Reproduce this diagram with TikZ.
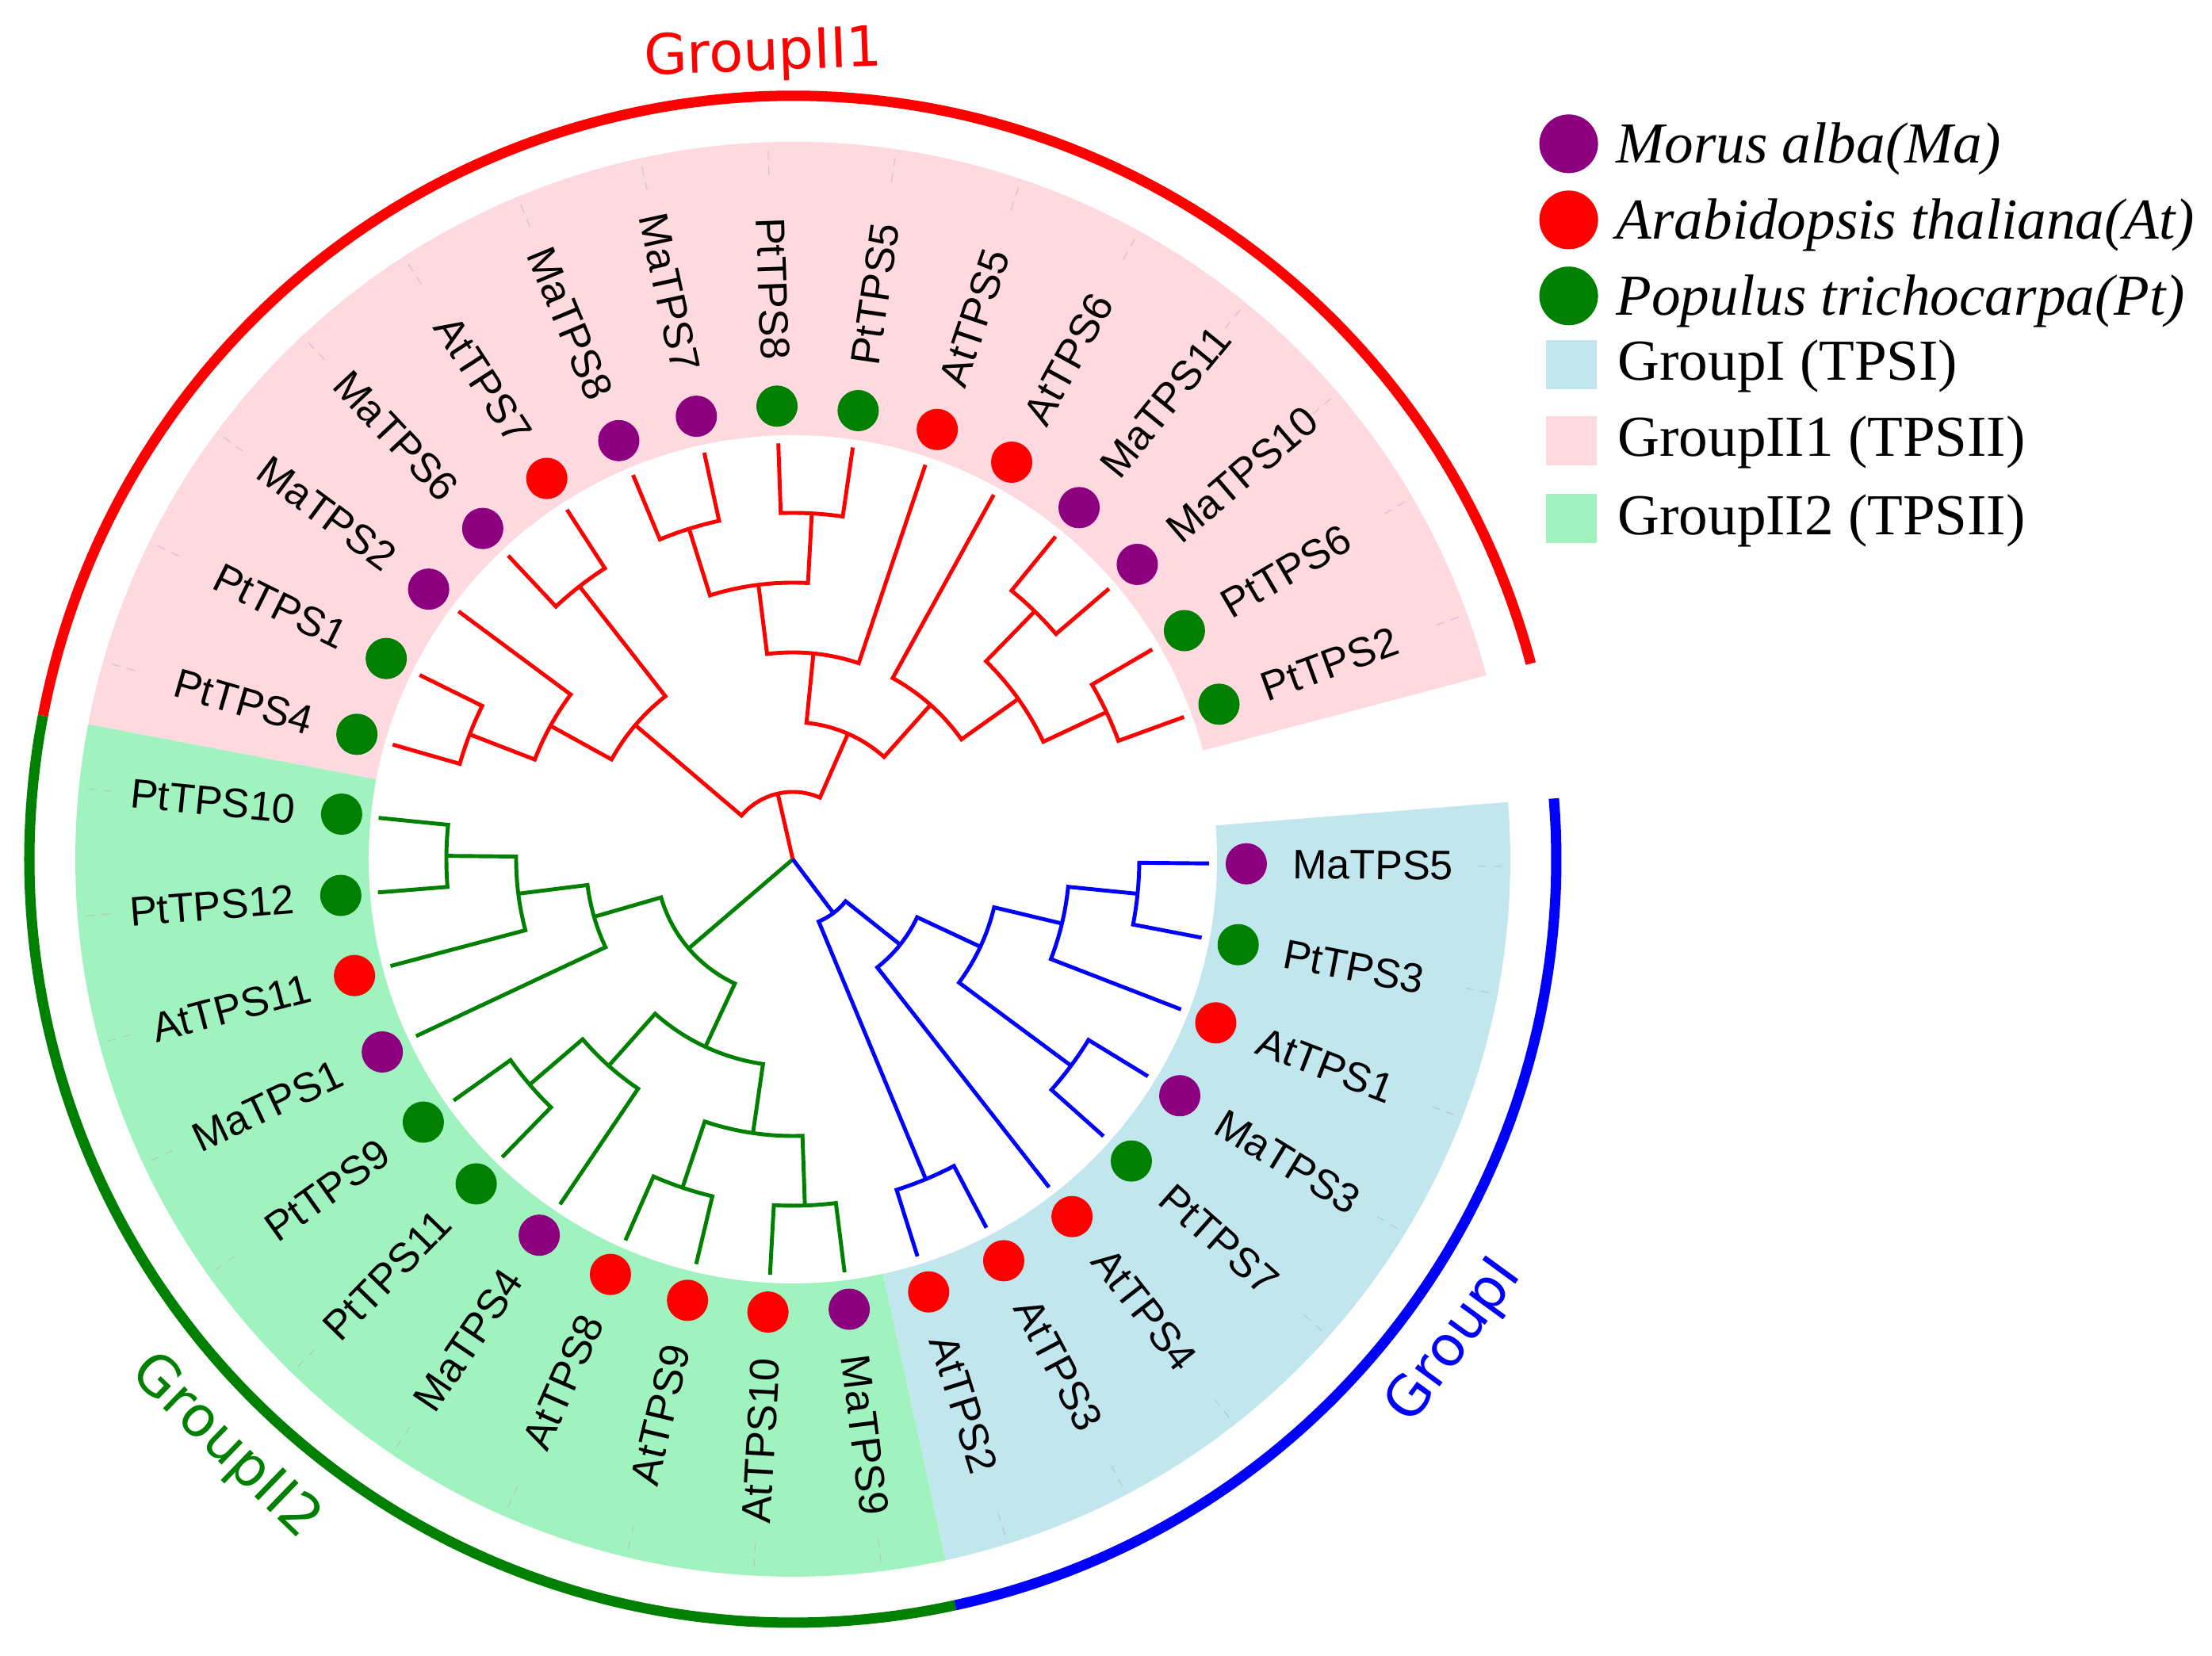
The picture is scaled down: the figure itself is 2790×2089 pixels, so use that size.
\documentclass[tikz,border=0pt]{standalone}
\usepackage{fontspec}
\setmainfont{Liberation Serif}
\newfontfamily\leaffont{Liberation Sans}
\newfontfamily\grpfont{DejaVu Sans}
\definecolor{colMa}{RGB}{140,0,128}
\definecolor{colAt}{RGB}{255,0,0}
\definecolor{colPt}{RGB}{0,128,0}
\definecolor{bandpink}{RGB}{255,217,224}
\definecolor{bandgreen}{RGB}{160,242,190}
\definecolor{bandblue}{RGB}{194,230,238}
\definecolor{trred}{RGB}{255,0,0}
\definecolor{trgreen}{RGB}{0,128,0}
\definecolor{trblue}{RGB}{0,0,255}
\newcommand\clade[6]{%
  \draw[treeline] (#5) -- (#3:#2) arc[start angle=#3, end angle=#4, radius=#2] -- (#6);
  \coordinate (#1) at ({(#3+#4)/2}:#2);}
\begin{document}
\begin{tikzpicture}[x=0.01cm,y=0.01cm,
  treeline/.style={line width=1.4pt, line join=miter},
  leafdot/.style={circle, inner sep=0pt, minimum size=0.52cm},
  leaflabel/.style={inner sep=0pt, font=\leaffont\fontsize{14.8}{16}\selectfont},
  grouplabel/.style={inner sep=0pt, anchor=base, font=\grpfont\fontsize{20}{24}\selectfont},
  legendtext/.style={inner sep=0pt, anchor=base west, font=\fontsize{20.8}{24}\selectfont},
  ring/.style={line width=3.7pt},
  tickline/.style={draw=gray!55, draw opacity=0.7, line width=0.3pt, dash pattern=on 3pt off 2.5pt},
  legsq/.style={rectangle, inner sep=0pt, minimum width=0.64cm, minimum height=0.62cm}
]
\useasboundingbox (-1000,-1005) rectangle (1790,1084);
\coordinate (O) at (0,0);
% coloured bands
\fill[bandpink] (O) -- (14.857:905) arc[start angle=14.857, end angle=169.143, radius=905] -- cycle;
\fill[bandgreen] (O) -- (169.143:905) arc[start angle=169.143, end angle=282.286, radius=905] -- cycle;
\fill[bandblue] (O) -- (282.286:905) arc[start angle=282.286, end angle=364.571, radius=905] -- cycle;
\fill[white] (O) circle[radius=535];
% faint ticks
\foreach \k in {0,...,33}{
  \draw[tickline] ({20+\k*10.285714}:864) -- ({20+\k*10.285714}:903);
}
% outer rings
\draw[ring, trred] (14.857:963) arc[start angle=14.857, end angle=169.143, radius=963];
\draw[ring, trgreen] (169.143:963) arc[start angle=169.143, end angle=282.286, radius=963];
\draw[ring, trblue] (282.286:963) arc[start angle=282.286, end angle=364.571, radius=963];
% leaf tip coordinates
\foreach \k in {0,...,33}{
  \coordinate (l\k) at ({20+\k*10.285714}:525);
}
% red clade
\begin{scope}[treeline/.append style={draw=trred}]
\clade{A}{437}{164}{153.714}{l14}{l13}
\clade{N2}{349}{158.857}{143.429}{A}{l12}
\clade{B}{437}{133.143}{122.857}{l11}{l10}
\clade{N3}{261}{151.143}{128}{N2}{B}
\clade{D}{437}{112.571}{102.286}{l9}{l8}
\clade{Cc}{437}{92}{81.714}{l7}{l6}
\clade{E}{349}{107.429}{86.857}{D}{Cc}
\clade{F}{261}{97.143}{71.429}{E}{l5}
\clade{Z}{437}{50.857}{40.571}{l3}{l2}
\clade{W}{437}{30.286}{20}{l1}{l0}
\clade{Y}{349}{45.714}{25.143}{Z}{W}
\clade{X}{261}{61.143}{35.429}{l4}{Y}
\clade{G}{173}{84.286}{48.286}{F}{X}
\clade{R}{85}{139.571}{66.286}{N3}{G}
\draw[treeline] (O) -- (R);
\end{scope}
% green clade
\begin{scope}[treeline/.append style={draw=trgreen}]
\clade{H}{437}{174.286}{184.571}{l15}{l16}
\clade{H2}{349}{179.429}{194.857}{H}{l17}
\clade{H3}{261}{187.143}{205.143}{H2}{l18}
\clade{GLa}{437}{215.429}{225.714}{l19}{l20}
\clade{GLb}{349}{220.571}{236}{GLa}{l21}
\clade{GLc}{437}{246.286}{256.571}{l22}{l23}
\clade{GLd}{437}{266.857}{277.143}{l24}{l25}
\clade{GLe}{349}{251.429}{272}{GLc}{GLd}
\clade{GLf}{261}{228.286}{261.714}{GLb}{GLe}
\clade{GR}{173}{196.143}{245}{H3}{GLf}
\draw[treeline] (O) -- (GR);
\end{scope}
% blue clade
\begin{scope}[treeline/.append style={draw=trblue}]
\clade{BA}{437}{287.429}{297.714}{l26}{l27}
\clade{BD}{437}{318.286}{328.571}{l29}{l30}
\clade{BF}{437}{349.143}{359.429}{l32}{l33}
\clade{BE}{349}{338.857}{354.286}{l31}{BF}
\clade{BC}{261}{323.429}{346.571}{BD}{BE}
\clade{BB}{173}{308}{335}{l28}{BC}
\clade{BR}{85}{292.571}{321.5}{BA}{BB}
\draw[treeline] (O) -- (BR);
\end{scope}
% leaf dots
\foreach \k/\sp in {0/Pt,1/Pt,2/Ma,3/Ma,4/At,5/At,6/Pt,7/Pt,8/Ma,9/Ma,10/At,11/Ma,12/Ma,13/Pt,14/Pt,15/Pt,16/Pt,17/At,18/Ma,19/Pt,20/Pt,21/Ma,22/At,23/At,24/At,25/Ma,26/At,27/At,28/At,29/Pt,30/Ma,31/At,32/Pt,33/Ma}{
  \pgfmathsetmacro\ang{20+\k*360/35}
  \node[leafdot, fill=col\sp] (d\k) at (\ang:572) {};
}
% labels right side
\foreach \k/\nm in {0/PtTPS2,1/PtTPS6,2/MaTPS10,3/MaTPS11,4/AtTPS6,5/AtTPS5,6/PtTPS5,25/MaTPS9,26/AtTPS2,27/AtTPS3,28/AtTPS4,29/PtTPS7,30/MaTPS3,31/AtTPS1,32/PtTPS3,33/MaTPS5}{
  \pgfmathsetmacro\ang{20+\k*360/35}
  \node[leaflabel, anchor=west, rotate=\ang] (t\k) at (\ang:630) {\nm};
}
% labels left side
\foreach \k/\nm in {7/PtTPS8,8/MaTPS7,9/MaTPS8,10/AtTPS7,11/MaTPS6,12/MaTPS2,13/PtTPS1,14/PtTPS4,15/PtTPS10,16/PtTPS12,17/AtTPS11,18/MaTPS1,19/PtTPS9,20/PtTPS11,21/MaTPS4,22/AtTPS8,23/AtTPS9,24/AtTPS10}{
  \pgfmathsetmacro\ang{20+\k*360/35}
  \node[leaflabel, anchor=east, rotate=\ang-180] (t\k) at (\ang:630) {\nm};
}
% group labels
\node[grouplabel, text=trred, rotate=2.1] (g1) at (92.1:996) {GroupII1};
\node[grouplabel, text=trgreen, rotate=316] (g2) at (226:1050) {GroupII2};
\node[grouplabel, text=trblue, rotate=53.9] (g3) at (323.9:1052) {GroupI};
% legend
\node[leafdot, minimum size=0.74cm, fill=colMa] (k1) at (978.6,902.6) {};
\node[legendtext] (kt1) at (1038,878.6) {\itshape Morus alba(Ma)};
\node[leafdot, minimum size=0.74cm, fill=colAt] (k2) at (978.6,806.6) {};
\node[legendtext] (kt2) at (1038,782.6) {\itshape Arabidopsis thaliana(At)};
\node[leafdot, minimum size=0.74cm, fill=colPt] (k3) at (978.6,710.7) {};
\node[legendtext] (kt3) at (1038,686.7) {\itshape Populus trichocarpa(Pt)};
\node[legsq, fill=bandblue] (k4) at (982,624) {};
\node[legendtext] (kt4) at (1040,604) {GroupI (TPSI)};
\node[legsq, fill=bandpink] (k5) at (982,528) {};
\node[legendtext] (kt5) at (1040,508) {GroupII1 (TPSII)};
\node[legsq, fill=bandgreen] (k6) at (982,430) {};
\node[legendtext] (kt6) at (1040,409) {GroupII2 (TPSII)};
\end{tikzpicture}
\end{document}
